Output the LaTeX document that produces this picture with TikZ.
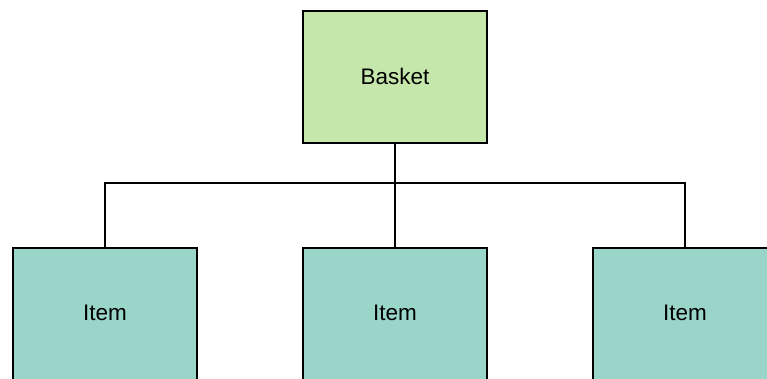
\documentclass[tikz,border=0pt]{standalone}
\usepackage{fontspec}
\setmainfont{Liberation Sans}
\usetikzlibrary{positioning}
\definecolor{basketgreen}{HTML}{C6E7AC}
\definecolor{itemteal}{HTML}{9AD5CA}
\tikzset{
  box/.style={draw, line width=2pt, minimum width=184pt, minimum height=132pt, inner sep=0pt, align=center, font=\fontsize{22.5}{26}\selectfont},
  link/.style={line width=2.6pt}
}
\begin{document}
\begin{tikzpicture}[x=1pt, y=1pt]
  \useasboundingbox (0,0) rectangle (767,379);
  \node[box, fill=basketgreen] (Basket) at (395,302) {\raisebox{2pt}{Basket}};
  \node[box, fill=itemteal] (Item1) at (105,65) {\raisebox{2pt}{Item}};
  \node[box, fill=itemteal] (Item2) at (395,65) {\raisebox{2pt}{Item}};
  \node[box, fill=itemteal] (Item3) at (685,65) {\raisebox{2pt}{Item}};
  \coordinate (Bus) at (0,196);
  \draw[link] (Basket.south) -- (Item2.north);
  \draw[link] (Item1.north) -- (Item1.north |- Bus) -- (Item3.north |- Bus) -- (Item3.north);
\end{tikzpicture}
\end{document}
